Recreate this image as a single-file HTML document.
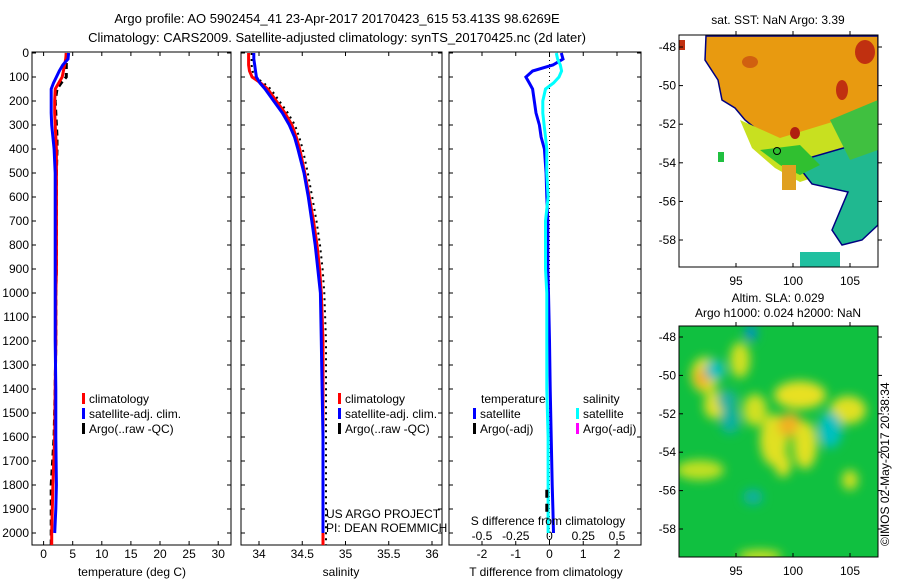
<!DOCTYPE html>
<html><head><meta charset="utf-8"><style>
html,body{margin:0;padding:0;background:#fff}
svg{display:block;font-family:"Liberation Sans",sans-serif}
</style></head><body>
<svg id="fig" width="900" height="580" xmlns="http://www.w3.org/2000/svg">
<defs>
<filter id="blur" x="-50%" y="-50%" width="200%" height="200%"><feGaussianBlur stdDeviation="5"/></filter>
<clipPath id="c1"><rect x="679" y="35" width="199" height="232"/></clipPath>
<clipPath id="c2"><rect x="679" y="326" width="199" height="231"/></clipPath>
</defs>
<text x="337" y="23" font-size="13" text-anchor="middle">Argo profile: AO 5902454_41 23-Apr-2017 20170423_615 53.413S 98.6269E</text>
<text x="337" y="42" font-size="13" text-anchor="middle">Climatology: CARS2009. Satellite-adjusted climatology: synTS_20170425.nc (2d later)</text>
<g id="p1"></g>
<g id="p2"></g>
<g id="p3"></g>
<g id="m1">
<text x="778" y="24" font-size="12" text-anchor="middle">sat. SST: NaN Argo: 3.39</text>
<g clip-path="url(#c1)">
<rect x="679" y="35" width="199" height="232" fill="#fff"/>
<polygon points="706,36 878,36 878,118 850,130 810,148 780,140 760,132 745,120 735,108 722,100 718,80 705,60" fill="#e89a10" stroke="#000080" stroke-width="1.5"/>
<polygon points="740,120 780,138 878,108 878,150 830,172 800,182 775,168 752,148" fill="#c8e020"/>
<polygon points="795,162 878,138 878,225 862,240 842,245 832,230 848,192 812,184" fill="#20b890" stroke="#000080" stroke-width="1.5"/>
<polygon points="760,150 800,145 820,165 800,175 780,165" fill="#30c030"/>
<polygon points="830,120 878,100 878,150 850,160" fill="#40c040"/>
<rect x="800" y="252" width="40" height="15" fill="#20c0a0"/>
<rect x="782" y="165" width="14" height="25" fill="#e0a020"/>
<rect x="718" y="152" width="6" height="10" fill="#20c040"/>
<rect x="679" y="40" width="6" height="10" fill="#c03010"/>
<ellipse cx="865" cy="52" rx="10" ry="12" fill="#c03010"/>
<ellipse cx="842" cy="90" rx="6" ry="10" fill="#c03010"/>
<ellipse cx="750" cy="62" rx="8" ry="6" fill="#d06010"/>
<ellipse cx="795" cy="133" rx="5" ry="6" fill="#b02010"/>
<circle cx="777" cy="151" r="3.5" fill="none" stroke="#000" stroke-width="1"/>
</g>
<rect x="679" y="35" width="199" height="232" fill="none" stroke="#000"/>
</g>
<g id="m2">
<text x="778" y="302" font-size="12" text-anchor="middle">Altim. SLA: 0.029</text>
<text x="778" y="317" font-size="12" text-anchor="middle">Argo h1000: 0.024 h2000: NaN</text>
<g clip-path="url(#c2)">
<rect x="679" y="326" width="199" height="231" fill="#10c040"/>
<g filter="url(#blur)">
<ellipse cx="705" cy="375" rx="14" ry="18" fill="#e0e020"/>
<ellipse cx="702" cy="378" rx="8" ry="10" fill="#f0b020"/>
<ellipse cx="740" cy="360" rx="10" ry="18" fill="#d0e020"/>
<ellipse cx="755" cy="410" rx="12" ry="16" fill="#d0e020"/>
<ellipse cx="800" cy="395" rx="26" ry="14" fill="#e8e020"/>
<ellipse cx="848" cy="410" rx="18" ry="14" fill="#e0e020"/>
<ellipse cx="774" cy="440" rx="14" ry="26" fill="#e0e020"/>
<ellipse cx="790" cy="425" rx="12" ry="12" fill="#f0b020"/>
<ellipse cx="805" cy="445" rx="12" ry="24" fill="#e0e020"/>
<ellipse cx="783" cy="465" rx="8" ry="12" fill="#e0e020"/>
<ellipse cx="714" cy="405" rx="10" ry="14" fill="#e0e020"/>
<ellipse cx="700" cy="470" rx="24" ry="10" fill="#c0e020"/>
<ellipse cx="727" cy="400" rx="10" ry="10" fill="#20b0a0"/>
<ellipse cx="715" cy="370" rx="10" ry="10" fill="#00c0c0"/>
<ellipse cx="730" cy="420" rx="10" ry="14" fill="#10b0a0"/>
<ellipse cx="830" cy="430" rx="12" ry="18" fill="#00c0c0"/>
<ellipse cx="751" cy="333" rx="6" ry="8" fill="#0090d0"/>
<ellipse cx="753" cy="497" rx="10" ry="8" fill="#10b0a0"/>
<ellipse cx="850" cy="480" rx="8" ry="10" fill="#d0e020"/>
<ellipse cx="760" cy="556" rx="22" ry="6" fill="#d0e020"/>
</g>
</g>
<rect x="679" y="326" width="199" height="231" fill="none" stroke="#000"/>
</g>
<text transform="translate(889,546) rotate(-90)" font-size="12">©IMOS 02-May-2017 20:38:34</text>
</svg>
<script>
// depth grid (m)
var depths = [0, 25, 50, 75, 100, 125, 150, 200, 250, 300, 350, 400, 500, 600, 700, 800, 900, 1000, 1200, 1400, 1600, 1800, 1900, 2000, 2050];
// temperature (deg C)
var tempClim = [3.9, 3.8, 3.6, 3.4, 3.2, 2.6, 2.0, 1.9, 1.9, 2.0, 2.1, 2.2, 2.2, 2.2, 2.2, 2.2, 2.2, 2.1, 2.1, 2.0, 1.9, 1.6, 1.5, 1.4, 1.4];
var tempSat  = [4.3, 4.2, 3.3, 2.7, 2.2, 1.7, 1.3, 1.3, 1.3, 1.4, 1.6, 1.8, 2.0, 2.0, 2.0, 2.0, 2.0, 2.0, 2.0, 2.1, 2.1, 2.2, 2.1, 1.9];
var tempArgo = [3.9, 3.9, 3.9, 3.9, 3.9, 3.0, 2.3, 2.0, 2.1, 2.2, 2.3, 2.3, 2.2, 2.2, 2.2, 2.2, 2.2, 2.1, 2.1, 2.0, 1.8, 1.3, 1.3, 1.3, 1.3];
// salinity
var salClim = [33.88, 33.88, 33.88, 33.89, 33.92, 34.02, 34.10, 34.20, 34.30, 34.38, 34.43, 34.47, 34.53, 34.58, 34.63, 34.67, 34.70, 34.72, 34.74, 34.74, 34.74, 34.74, 34.74, 34.74, 34.74];
var salSat  = [33.94, 33.94, 33.95, 33.96, 33.97, 34.01, 34.07, 34.17, 34.27, 34.35, 34.41, 34.45, 34.52, 34.57, 34.61, 34.65, 34.68, 34.71, 34.72, 34.73, 34.74, 34.74, 34.74, 34.74];
// differences from climatology
var tDiffSat = [0.35, 0.40, 0.10, -0.50, -0.70, -0.60, -0.50, -0.45, -0.40, -0.30, -0.25, -0.15, -0.10, -0.08, -0.05, -0.05, -0.05, -0.03, 0.00, 0.02, 0.05, 0.08, 0.10, 0.12];
var sDiffSat = [0.05, 0.06, 0.08, 0.09, 0.07, 0.03, -0.03, -0.05, -0.05, -0.04, -0.03, -0.02, -0.02, -0.01, -0.03, -0.03, -0.03, -0.02, -0.02, -0.02, -0.01, -0.01, -0.01, -0.01];
var tDiffArgoDepths = [1820, 1860, 1900, 1940];
var tDiffArgo = [-0.08, -0.08, -0.08, -0.08];
// tick labels
var depthTicks = [0,100,200,300,400,500,600,700,800,900,1000,1100,1200,1300,1400,1500,1600,1700,1800,1900,2000];
var tempTicks = [0,5,10,15,20,25,30];
var salTicks = [34,34.5,35,35.5,36];
var tDiffTicks = [-2,-1,0,1,2];
var sDiffTicks = [-0.5,-0.25,0,0.25,0.5];
var latTicks = [-48,-50,-52,-54,-56,-58];
var lonTicks = [95,100,105];

var NS='http://www.w3.org/2000/svg';
function yD(d){return 53+d*0.24;}
function xT(v){return 43.6+v*5.82;}
function xS(v){return 259+(v-34)*86.5;}
function xD(v){return 549.5+v*33.75;}
function xSD(v){return 549.5+v*4*33.75;}
function lonX(l){return 736+(l-95)*11.4;}
function latY1(l){return 47+(-48-l)*19.3;}
function latY2(l){return 337+(-48-l)*19.2;}
function mk(tag,parent,attrs){var e=document.createElementNS(NS,tag);for(var k in attrs)e.setAttribute(k,attrs[k]);parent.appendChild(e);return e;}
function txt(parent,x,y,s,anchor,size,fill){var t=mk('text',parent,{x:x,y:y,'font-size':size||12,'text-anchor':anchor||'start',fill:fill||'#000'});t.textContent=s;return t;}
function line(parent,xs,ys,color,w,dash){
  var n=Math.min(xs.length,ys.length);
  var pts=[];for(var i=0;i<n;i++)pts.push(xs[i].toFixed(1)+','+ys[i].toFixed(1));
  var p=mk('polyline',parent,{points:pts.join(' '),fill:'none',stroke:color,'stroke-width':w||3});
  if(dash)p.setAttribute('stroke-dasharray',dash);
  return p;
}
function frame(g,x0,x1,name){
  var r=mk('rect',g,{x:x0,y:52,width:x1-x0,height:493,fill:'none',stroke:'#000'});
  
  
}
function yTicks(g,x0,x1,labels){
  depthTicks.forEach(function(d){
    var y=yD(d);
    mk('line',g,{x1:x0,y1:y,x2:x0+4,y2:y,stroke:'#000'});
    mk('line',g,{x1:x1,y1:y,x2:x1-4,y2:y,stroke:'#000'});
    if(labels){var t=txt(g,x0-3,y+4,String(d),'end',12);
      
      }
  });
}
function xTicks(g,vals,fx,y,labY){
  vals.forEach(function(v){var x=fx(v);
    mk('line',g,{x1:x,y1:545,x2:x,y2:541,stroke:'#000'});
    mk('line',g,{x1:x,y1:52,x2:x,y2:56,stroke:'#000'});
    var t=txt(g,x,labY,String(v),'middle',12);
    
    
  });
}
function legendEntry(g,x,y,color,label){
  var r=mk('rect',g,{x:x,y:y-10,width:3,height:11,fill:color});
  
  
  var t=txt(g,x+7,y,label,'start',12);
  
  
}
var yy=depths.map(yD);
// Panel 1 temperature
var p1=document.getElementById('p1');
frame(p1,32,231,'temperature');
yTicks(p1,32,231,true);
xTicks(p1,tempTicks,xT,545,558);
var l;
l=line(p1,tempArgo.map(xT),yy,'#000',3,'6,4');

l=line(p1,tempClim.map(xT),yy,'#f00',3);

l=line(p1,tempSat.map(xT),yy,'#00f',3);

var xl=txt(p1,132,576,'temperature (deg C)','middle',12);

legendEntry(p1,82,403,'#f00','climatology');
legendEntry(p1,82,418,'#00f','satellite-adj. clim.');
legendEntry(p1,82,433,'#000','Argo(..raw -QC)');
// Panel 2 salinity
var p2=document.getElementById('p2');
frame(p2,241,442,'salinity');
yTicks(p2,241,442,false);
xTicks(p2,salTicks,xS,545,558);
l=line(p2,salClim.map(function(v){return xS(v)+3;}),yy,'#000',2,'2,4');

l=line(p2,salClim.map(xS),yy,'#f00',3);

l=line(p2,salSat.map(xS),yy,'#00f',3);

xl=txt(p2,341,576,'salinity','middle',12);

legendEntry(p2,338,403,'#f00','climatology');
legendEntry(p2,338,418,'#00f','satellite-adj. clim.');
legendEntry(p2,338,433,'#000','Argo(..raw -QC)');
var c1=txt(p2,326,518,'US ARGO PROJECT','start',12);

var c2=txt(p2,326,532,'PI: DEAN ROEMMICH','start',12);

// Panel 3 differences
var p3=document.getElementById('p3');
frame(p3,449,641,'difference');
yTicks(p3,449,641,false);
xTicks(p3,tDiffTicks,xD,545,558);
sDiffTicks.forEach(function(v){var t=txt(p3,xSD(v),540,String(v),'middle',12);
  });
var zl=mk('line',p3,{x1:xD(0),y1:52,x2:xD(0),y2:545,stroke:'#000','stroke-dasharray':'1,3'});

l=line(p3,tDiffSat.map(xD),yy,'#00f',3);

l=line(p3,sDiffSat.map(xSD),yy,'#00ffff',3);

l=line(p3,tDiffArgo.map(xD),tDiffArgoDepths.map(yD),'#000',3,'8,6');

var st=txt(p3,548,525,'S difference from climatology','middle',12);

xl=txt(p3,546,576,'T difference from climatology','middle',12);

var h1=txt(p3,481,403,'temperature','start',12);

var h2=txt(p3,583,403,'salinity','start',12);

legendEntry(p3,473,418,'#00f','satellite');
legendEntry(p3,473,433,'#000','Argo(-adj)');
legendEntry(p3,576,418,'#00ffff','satellite');
legendEntry(p3,576,433,'#ff00ff','Argo(-adj)');
// map axes
function mapAxes(g,top,bottom,fy){
  latTicks.forEach(function(v){var y=fy(v);
    mk('line',g,{x1:679,y1:y,x2:683,y2:y,stroke:'#000'});
    mk('line',g,{x1:878,y1:y,x2:882,y2:y,stroke:'#000'});
    var t=txt(g,676,y+4,String(v),'end',12);
    });
  lonTicks.forEach(function(v){var x=lonX(v);
    mk('line',g,{x1:x,y1:bottom,x2:x,y2:bottom-4,stroke:'#000'});
    mk('line',g,{x1:x,y1:top,x2:x,y2:top-4,stroke:'#000'});
    var t=txt(g,x,bottom+18,String(v),'middle',12);
    });
}
mapAxes(document.getElementById('m1'),35,267,latY1);
mapAxes(document.getElementById('m2'),326,557,latY2);
</script>
</body></html>
